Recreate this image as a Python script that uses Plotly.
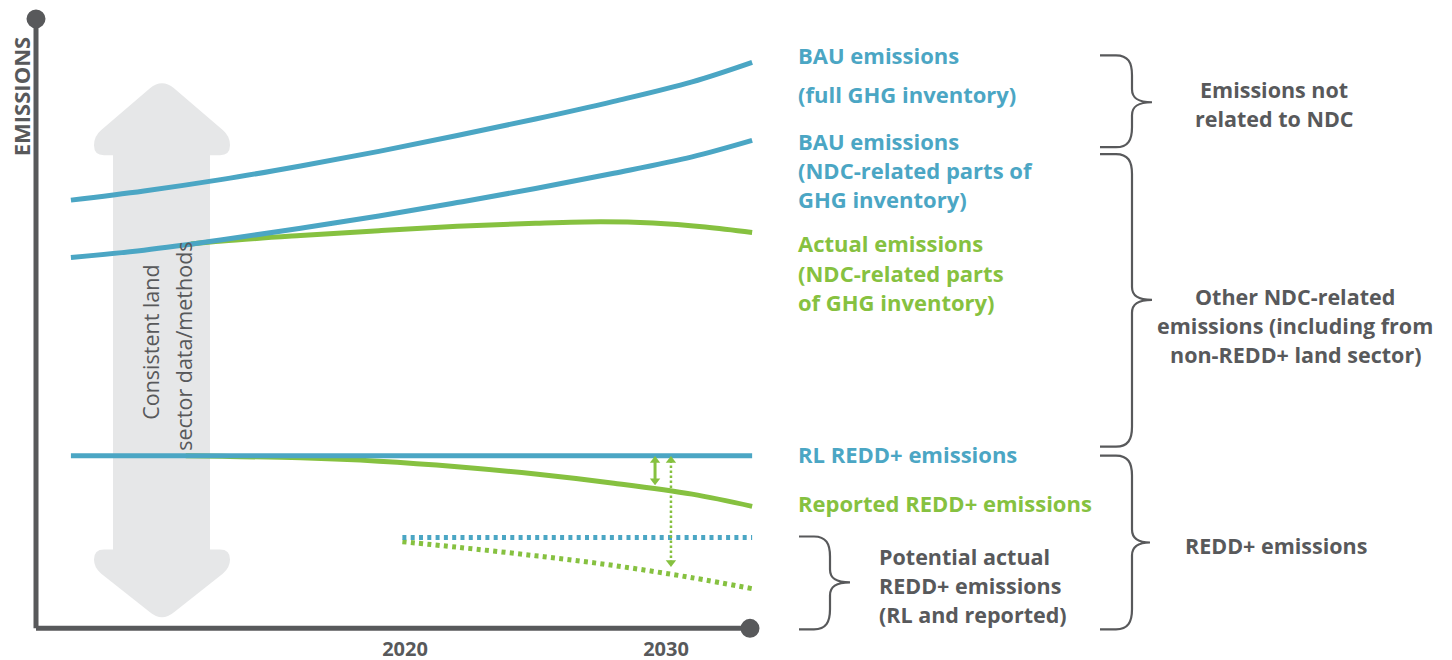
import plotly.graph_objects as go

# ---------------- data ----------------
years_main = [2007.2, 2010, 2013, 2016, 2019, 2022, 2025, 2028, 2031, 2033.3]
bau_full = [70.2, 71.7, 73.6, 75.8, 78.2, 80.8, 83.5, 86.4, 89.6, 92.8]
bau_ndc = [60.8, 62.0, 63.7, 65.6, 67.6, 69.8, 72.1, 74.6, 77.3, 80.0]

years_actual = [2011.8, 2013, 2016, 2019, 2022, 2025, 2027.5, 2029.5, 2031.5, 2033.3]
actual_ndc = [63.0, 63.5, 64.4, 65.2, 65.9, 66.4, 66.65, 66.45, 65.8, 64.9]

years_rl = [2007.2, 2033.3]
rl_redd = [28.3, 28.3]

years_reported = [2011.6, 2013, 2016, 2019, 2022, 2025, 2028, 2031, 2033.3]
reported_redd = [28.3, 28.2, 27.95, 27.4, 26.5, 25.3, 23.8, 22.0, 20.0]

years_potential_rl = [2019.9, 2033.3]
potential_rl = [14.9, 14.9]
years_potential_rep = [2019.9, 2022, 2025, 2028, 2031, 2033.3]
potential_reported = [14.2, 13.3, 11.9, 10.3, 8.3, 6.5]

# gap arrows (year, from, to)
gap_reported = (2029.58, 27.5, 24.2)
gap_potential = (2030.19, 27.5, 10.8)

tick_years = [2020, 2030]
tick_text = ["2020", "2030"]

BLUE = "#4ba6c4"
GREEN = "#86c140"
GRAY = "#58595b"
LIGHT = "#e6e7e8"
FONT = "Open Sans"

# ---------------- layout geometry (pixels) ----------------
FW, FH = 1452, 674
SY = FH / 660.0              # vertical correction of the page capture
L, R = 36, 760
T, B = 18, 642               # plot area (figure pixels)
PW, PH = R - L, B - T


def px(x):
    return (x - L) / PW


def py(y):
    return (B - y * SY) / PH


def P(x, y):
    return f"{px(x):.5f},{py(y):.5f}"


fig = go.Figure()

# lines (green first so blue sits on top)
spl = dict(shape="spline", smoothing=1.0)
fig.add_trace(go.Scatter(x=years_actual, y=actual_ndc, mode="lines",
                         line=dict(color=GREEN, width=5, **spl)))
fig.add_trace(go.Scatter(x=years_main, y=bau_full, mode="lines",
                         line=dict(color=BLUE, width=5, **spl)))
fig.add_trace(go.Scatter(x=years_main, y=bau_ndc, mode="lines",
                         line=dict(color=BLUE, width=5, **spl)))
fig.add_trace(go.Scatter(x=years_reported, y=reported_redd, mode="lines",
                         line=dict(color=GREEN, width=5, **spl)))
fig.add_trace(go.Scatter(x=years_rl, y=rl_redd, mode="lines",
                         line=dict(color=BLUE, width=5)))
fig.add_trace(go.Scatter(x=years_potential_rep, y=potential_reported, mode="lines",
                         line=dict(color=GREEN, width=5, dash="4px,4.3px", **spl)))
fig.add_trace(go.Scatter(x=years_potential_rl, y=potential_rl, mode="lines",
                         line=dict(color=BLUE, width=5, dash="4px,4.3px")))

# gap arrows
gx, g0, g1 = gap_reported
fig.add_trace(go.Scatter(x=[gx, gx], y=[g0, g1], mode="lines+markers",
                         line=dict(color=GREEN, width=3),
                         marker=dict(symbol=["triangle-up", "triangle-down"], size=9, color=GREEN)))
gx, g0, g1 = gap_potential
fig.add_trace(go.Scatter(x=[gx, gx], y=[g0, g1], mode="lines",
                         line=dict(color=GREEN, width=2.5, dash="2.5px,2.5px")))
fig.add_trace(go.Scatter(x=[gx, gx], y=[g0, g1], mode="markers",
                         marker=dict(symbol=["triangle-up", "triangle-down"], size=9, color=GREEN)))

shapes = []
# big grey double arrow
arrow_path = ("M " + P(113, 155) + " L " + P(104, 155) + " Q " + P(94, 155) + " " + P(94, 145)
              + " Q " + P(94, 136) + " " + P(101, 130) + " L " + P(150, 88)
              + " Q " + P(162, 78) + " " + P(174, 88) + " L " + P(223, 130)
              + " Q " + P(230, 136) + " " + P(230, 145) + " Q " + P(230, 155) + " " + P(220, 155)
              + " L " + P(210, 155) + " L " + P(210, 550) + " L " + P(220, 550)
              + " Q " + P(230, 550) + " " + P(230, 560) + " Q " + P(230, 568) + " " + P(223, 574)
              + " L " + P(174, 613) + " Q " + P(162, 623) + " " + P(150, 613)
              + " L " + P(101, 574) + " Q " + P(94, 568) + " " + P(94, 560)
              + " Q " + P(94, 550) + " " + P(104, 550) + " L " + P(113, 550) + " Z")
shapes.append(dict(type="path", xref="paper", yref="paper", path=arrow_path,
                   fillcolor=LIGHT, line=dict(width=0), layer="below"))

# axes lines + dots
shapes.append(dict(type="line", xref="paper", yref="paper", x0=px(36), y0=py(18), x1=px(36), y1=py(629),
                   line=dict(color=GRAY, width=5)))
shapes.append(dict(type="line", xref="paper", yref="paper", x0=px(36), y0=py(629), x1=px(750), y1=py(629),
                   line=dict(color=GRAY, width=5)))
for cx, cy in [(36, 18.5), (750, 629)]:
    r = 9.5
    shapes.append(dict(type="circle", xref="paper", yref="paper",
                       x0=px(cx - r), x1=px(cx + r), y0=py(cy + r), y1=py(cy - r),
                       fillcolor=GRAY, line=dict(width=0)))


def brace(x0, xv, xt, ytop, ymid, ybot):
    d = 13
    path = ("M " + P(x0, ytop) + " L " + P(xv - 16, ytop)
            + " C " + P(xv - 4, ytop) + " " + P(xv, ytop + 7) + " " + P(xv, ytop + 20)
            + " L " + P(xv, ymid - d)
            + " C " + P(xv, ymid - 4) + " " + P(xv + 6, ymid) + " " + P(xt, ymid)
            + " C " + P(xv + 6, ymid) + " " + P(xv, ymid + 4) + " " + P(xv, ymid + d)
            + " L " + P(xv, ybot - 20)
            + " C " + P(xv, ybot - 7) + " " + P(xv - 4, ybot) + " " + P(xv - 16, ybot)
            + " L " + P(x0, ybot))
    return dict(type="path", xref="paper", yref="paper", path=path,
                line=dict(color=GRAY, width=2.2))


shapes.append(brace(1100, 1132, 1152, 55, 102, 147))
shapes.append(brace(1100, 1132, 1152, 154, 300, 447))
shapes.append(brace(1100, 1132, 1150, 456, 543, 630))
shapes.append(brace(799, 830, 850, 537, 583, 630))

annotations = []


def txt(text, x, y, color, size=22, bold=True, xanchor="left", angle=0):
    annotations.append(dict(text=("<b>%s</b>" % text) if bold else text, x=px(x), y=py(y),
                            xref="paper", yref="paper", xanchor=xanchor, yanchor="middle",
                            showarrow=False, textangle=angle,
                            font=dict(family=FONT, size=size, color=color)))


txt("BAU emissions", 796, 55, BLUE)
txt("(full GHG inventory)", 796, 94, BLUE)
txt("BAU emissions", 796, 141, BLUE)
txt("(NDC-related parts of", 796, 170, BLUE)
txt("GHG inventory)", 796, 199, BLUE)
txt("Actual emissions", 796, 243, GREEN)
txt("(NDC-related parts", 796, 273, GREEN)
txt("of GHG inventory)", 796, 302, GREEN)
txt("RL REDD+ emissions", 796, 454, BLUE)
txt("Reported REDD+ emissions", 796, 503, GREEN)

GS = 21.5
txt("Potential actual", 877, 557, GRAY, size=GS)
txt("REDD+ emissions", 877, 586, GRAY, size=GS)
txt("(RL and reported)", 877, 615, GRAY, size=GS)

txt("Emissions not", 1274, 89, GRAY, size=GS, xanchor="center")
txt("related to NDC", 1274, 118, GRAY, size=GS, xanchor="center")
txt("Other NDC-related", 1295, 297, GRAY, size=GS, xanchor="center")
txt("emissions (including from", 1295, 326, GRAY, size=GS, xanchor="center")
txt("non-REDD+ land sector)", 1295, 355, GRAY, size=GS, xanchor="center")
txt("REDD+ emissions", 1276, 546, GRAY, size=GS, xanchor="center")

txt("EMISSIONS", 21, 97, GRAY, size=22, xanchor="center", angle=-90)
txt("Consistent land", 151, 343, GRAY, size=21.5, bold=False, xanchor="center", angle=-90)
txt("sector data/methods", 184, 347, GRAY, size=21.5, bold=False, xanchor="center", angle=-90)

x_lo = 2020 + (L - 405) / 26.1
x_hi = 2020 + (R - 405) / 26.1
y_lo = (629 - B / SY) / 6.11
y_hi = (629 - T / SY) / 6.11

fig.update_layout(
    width=FW, height=FH,
    margin=dict(l=L, r=FW - R, t=T, b=FH - B, pad=0),
    paper_bgcolor="white", plot_bgcolor="rgba(0,0,0,0)",
    showlegend=False,
    shapes=shapes, annotations=annotations,
    xaxis=dict(range=[x_lo, x_hi], showgrid=False, zeroline=False, showline=False,
               tickvals=tick_years, ticktext=["<b>%s</b>" % t for t in tick_text],
               ticks="", tickfont=dict(family=FONT, size=20, color=GRAY), ticklabelstandoff=7),
    yaxis=dict(range=[y_lo, y_hi], showgrid=False, zeroline=False, showline=False,
               showticklabels=False, ticks=""),
)

fig.write_html("out.html", config={"displayModeBar": False},
               post_script="document.body.style.margin='0px';document.body.style.overflow='hidden';")
